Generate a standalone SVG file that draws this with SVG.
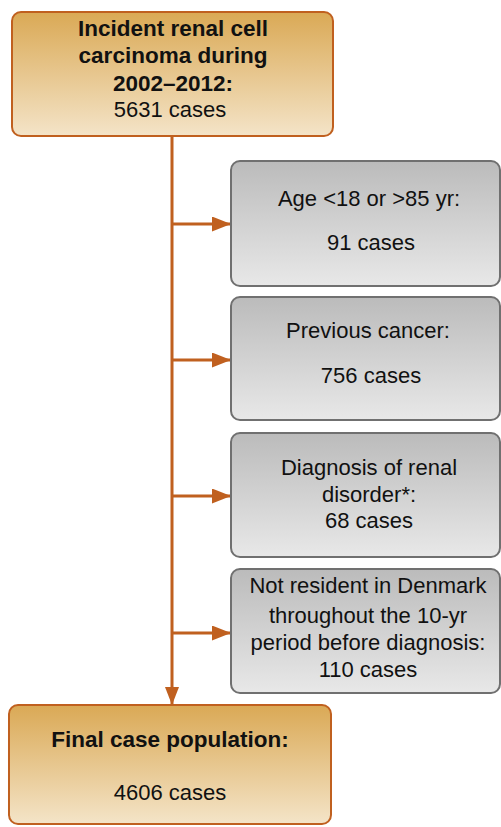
<svg xmlns="http://www.w3.org/2000/svg" width="501" height="827" viewBox="0 0 501 827">
<defs>
<linearGradient id="gOr" x1="0" y1="0" x2="0" y2="1">
<stop offset="0" stop-color="#DAA955"/>
<stop offset="1" stop-color="#F4E4C8"/>
</linearGradient>
<linearGradient id="gGr" x1="0" y1="0" x2="0" y2="1">
<stop offset="0" stop-color="#BBBBBB"/>
<stop offset="1" stop-color="#E8E8E8"/>
</linearGradient>
<marker id="ah" viewBox="0 0 10 10" refX="10" refY="5" markerWidth="19" markerHeight="15" markerUnits="userSpaceOnUse" orient="auto" preserveAspectRatio="none">
<path d="M0,0 L10,5 L0,10 Z" fill="#C0601F"/>
</marker>
<marker id="ahd" viewBox="0 0 10 10" refX="10" refY="5" markerWidth="18" markerHeight="14" markerUnits="userSpaceOnUse" orient="auto" preserveAspectRatio="none">
<path d="M0,0 L10,5 L0,10 Z" fill="#C0601F"/>
</marker>
</defs>
<style>
.or{fill:url(#gOr);stroke:#C0601F;stroke-width:2}
.gr{fill:url(#gGr);stroke:#707070;stroke-width:2}
text{font-family:"Liberation Sans",Arial,sans-serif;font-size:22px;fill:#111;text-anchor:middle}
.b{font-weight:bold;font-size:22.5px}
.c{stroke:#C0601F;stroke-width:3;fill:none}
</style>
<g id="connectors">
<line class="c" x1="172" y1="136" x2="172" y2="705" marker-end="url(#ahd)"/>
<line class="c" x1="172" y1="224" x2="231" y2="224" marker-end="url(#ah)"/>
<line class="c" x1="172" y1="360" x2="231" y2="360" marker-end="url(#ah)"/>
<line class="c" x1="172" y1="496" x2="231" y2="496" marker-end="url(#ah)"/>
<line class="c" x1="172" y1="633" x2="231" y2="633" marker-end="url(#ah)"/>
</g>
<g id="start">
<rect class="or" x="12" y="12" width="321" height="124" rx="9"/>
<text class="b" x="173" y="36">Incident renal cell</text>
<text class="b" x="173" y="63">carcinoma during</text>
<text class="b" x="173" y="91">2002–2012:</text>
<text x="170" y="117">5631 cases</text>
</g>
<g id="age">
<rect class="gr" x="231" y="161" width="269" height="125" rx="9"/>
<text x="369" y="206">Age &lt;18 or &gt;85 yr:</text>
<text x="371" y="250">91 cases</text>
</g>
<g id="prev">
<rect class="gr" x="231" y="297" width="269" height="123" rx="9"/>
<text x="368" y="338">Previous cancer:</text>
<text x="371" y="383">756 cases</text>
</g>
<g id="renal">
<rect class="gr" x="231" y="433" width="269" height="124" rx="9"/>
<text x="369" y="475">Diagnosis of renal</text>
<text x="369" y="502">disorder*:</text>
<text x="369" y="528">68 cases</text>
</g>
<g id="resident">
<rect class="gr" x="231" y="569" width="269" height="124" rx="9"/>
<text x="368" y="593">Not resident in Denmark</text>
<text x="368" y="623">throughout the 10-yr</text>
<text x="368" y="650">period before diagnosis:</text>
<text x="368" y="677">110 cases</text>
</g>
<g id="final">
<rect class="or" x="9" y="705" width="322" height="119" rx="9"/>
<text class="b" x="170" y="747">Final case population:</text>
<text x="170" y="800">4606 cases</text>
</g>
</svg>
